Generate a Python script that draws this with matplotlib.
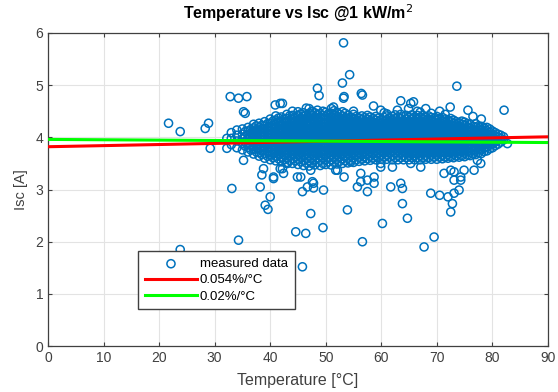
import numpy as np
import matplotlib
matplotlib.use('Agg')
import matplotlib.pyplot as plt

plt.rcParams['font.family'] = ['Liberation Sans', 'DejaVu Sans']

#%% data
# fitted lines (Isc at T=0 and T=90)
line_t = [0, 90]
red_isc = [3.82, 4.01]
green_isc = [3.96, 3.90]

# scattered points above the dense band
high_t = [53.2, 54.3, 53.0, 48.5, 48.8, 56.4, 53.2, 58.6, 63.5, 65.8, 62.9, 64.9, 51.4, 47.6,
          59.9, 73.6, 82.1, 72.4, 75.6, 65.3, 41.8, 53.3, 56.6, 21.7, 23.8, 28.3, 28.9, 32.8,
          34.3, 35.8, 35.5, 40.9, 42.2, 41.5, 35.2, 50.5, 55.0, 57.5, 61.0, 67.0, 69.0, 70.5,
          68.0, 66.5, 45.0, 44.0, 76.5, 78.0, 82.7, 29.2, 32.2, 32.2, 46.5, 60.5, 71.5]
high_i = [5.81, 5.20, 5.04, 4.94, 4.80, 4.84, 4.75, 4.60, 4.70, 4.68, 4.52, 4.55, 4.58, 4.49,
          4.52, 4.98, 4.52, 4.58, 4.52, 4.65, 4.65, 4.78, 4.81, 4.27, 4.11, 4.17, 4.27, 4.78,
          4.75, 4.78, 4.46, 4.62, 4.65, 4.30, 4.49, 4.45, 4.50, 4.42, 4.45, 4.48, 4.46, 4.50,
          4.55, 4.50, 4.42, 4.50, 4.40, 4.35, 3.88, 3.79, 3.79, 3.98, 4.56, 4.47, 4.44]

# scattered points below the dense band
low_t = [35.2, 33.1, 38.2, 38.8, 40.6, 42.2, 43.1, 39.1, 40.0, 45.8, 34.3, 44.6, 46.4, 47.3,
         23.8, 45.8, 49.5, 56.6, 60.2, 67.7, 69.5, 47.8, 49.6, 53.9, 64.7, 63.8, 63.8,
         68.9, 70.5, 72.0, 73.1, 72.5, 72.8, 74.0, 74.3, 76.7, 77.9, 54.5, 56.3, 57.5, 58.7,
         55.7, 57.5, 61.7, 63.5, 43.0, 45.5, 52.1, 53.3, 67.1, 71.3, 73.1, 59.9, 47.3, 47.8,
         44.9, 46.7, 47.6, 39.6, 73.1, 74.3, 72.5, 74.9, 77.3, 56.3, 58.7, 62.0, 65.3, 59.9,
         51.8, 38.5, 40.6, 41.8, 42.4]
low_i = [3.56, 3.02, 3.05, 3.40, 3.21, 3.40, 3.50, 2.70, 2.86, 2.96, 2.03, 2.19, 2.16, 2.54,
         1.85, 1.52, 2.27, 2.00, 2.35, 1.90, 2.09, 3.03, 2.99, 2.61, 2.45, 2.73, 3.02,
         2.93, 2.89, 2.86, 2.93, 2.57, 2.73, 2.99, 3.18, 3.37, 3.50, 3.53, 3.31, 3.18, 3.24,
         3.05, 2.96, 3.05, 3.12, 3.50, 3.24, 3.37, 3.24, 3.43, 3.31, 3.18, 3.43, 3.37, 3.12,
         3.24, 3.05, 3.15, 2.62, 3.34, 3.24, 3.37, 3.37, 3.56, 3.15, 3.12, 3.43, 3.50, 3.50,
         3.37, 3.28, 3.24, 3.40, 3.31]

# dense band: (temperature, Isc values in 1/100 A)
core_30s = [
    (33, [386, 398, 409]), (34, [380, 393, 404, 414]), (35, [376, 388, 397, 406, 416]),
    (35.5, [383, 392, 401, 411]), (36, [372, 381, 389, 396, 404, 412, 419]),
    (36.5, [376, 385, 393, 400, 408, 415]), (37, [368, 377, 384, 391, 398, 405, 412, 418, 425]),
    (37.5, [372, 380, 387, 394, 402, 409, 415, 422]),
    (38, [364, 371, 379, 386, 392, 399, 406, 413, 419, 427]),
    (38.5, [367, 375, 382, 389, 396, 403, 410, 416, 423]),
    (39, [360, 369, 376, 383, 390, 396, 403, 409, 416, 422, 430]),
    (39.5, [364, 372, 379, 386, 393, 400, 406, 413, 419, 426]),
]
core_40s = [
    (40, [357, 366, 373, 380, 387, 393, 400, 407, 413, 420, 427, 435]),
    (40.5, [361, 369, 377, 384, 390, 397, 403, 410, 417, 423, 431]),
    (41, [355, 364, 371, 378, 385, 392, 398, 405, 411, 418, 425, 433, 441]),
    (41.5, [359, 367, 375, 382, 389, 395, 402, 409, 415, 422, 429, 437]),
    (42, [353, 362, 370, 377, 384, 390, 397, 403, 410, 416, 423, 430, 439]),
    (42.5, [357, 366, 373, 380, 387, 394, 400, 407, 413, 420, 427, 435]),
    (43, [352, 361, 368, 375, 382, 389, 396, 402, 409, 415, 422, 428, 436, 444]),
    (43.5, [356, 364, 372, 379, 386, 393, 399, 406, 412, 419, 425, 433, 441]),
    (44, [350, 359, 367, 374, 381, 388, 395, 401, 408, 414, 421, 427, 434, 442]),
    (44.5, [355, 363, 371, 378, 385, 392, 398, 405, 411, 418, 424, 431, 439]),
    (45, [348, 358, 366, 373, 380, 387, 394, 400, 407, 413, 420, 426, 433, 441, 449]),
    (45.5, [353, 362, 370, 377, 384, 390, 397, 404, 410, 417, 423, 430, 437, 445]),
    (46, [346, 356, 364, 372, 379, 386, 392, 399, 405, 412, 418, 425, 432, 440, 447]),
    (46.5, [351, 360, 368, 375, 382, 389, 396, 402, 409, 415, 422, 428, 436, 443]),
    (47, [345, 355, 363, 371, 378, 385, 391, 398, 404, 411, 417, 424, 431, 438, 446, 455]),
    (47.5, [350, 359, 367, 374, 381, 388, 394, 401, 407, 414, 420, 427, 434, 442, 450]),
    (48, [347, 357, 365, 372, 379, 386, 393, 399, 406, 412, 419, 425, 432, 439, 447]),
    (48.5, [352, 361, 369, 376, 383, 390, 396, 403, 409, 416, 422, 429, 436, 444, 452]),
    (49, [346, 356, 364, 371, 378, 385, 392, 398, 405, 411, 418, 424, 431, 438, 445]),
    (49.5, [350, 360, 368, 375, 382, 389, 395, 402, 408, 415, 421, 428, 435, 442, 450]),
]
core_50s = [
    (50, [348, 358, 366, 373, 380, 387, 394, 400, 407, 413, 420, 426, 433, 440, 448]),
    (50.5, [353, 362, 370, 377, 384, 391, 397, 404, 410, 417, 423, 430, 437, 445]),
    (51, [347, 357, 365, 372, 379, 386, 393, 399, 406, 412, 419, 425, 432, 439, 446, 455]),
    (51.5, [352, 361, 369, 376, 383, 390, 396, 403, 409, 416, 422, 429, 436, 443, 451]),
    (52, [349, 358, 366, 373, 380, 387, 394, 400, 407, 413, 420, 426, 433, 440, 448]),
    (52.5, [354, 362, 370, 377, 384, 391, 397, 404, 410, 417, 423, 430, 437, 444]),
    (53, [350, 359, 367, 374, 381, 388, 395, 401, 408, 414, 421, 427, 434, 441, 449]),
    (53.5, [355, 363, 371, 378, 385, 392, 398, 405, 411, 418, 424, 431, 438, 446]),
    (54, [351, 360, 368, 375, 382, 389, 395, 402, 408, 415, 421, 428, 435, 442]),
    (54.5, [356, 364, 372, 379, 386, 393, 399, 406, 412, 419, 425, 432, 439]),
    (55, [352, 361, 369, 376, 383, 390, 396, 403, 409, 416, 422, 429, 436, 444]),
    (55.5, [357, 365, 373, 380, 387, 393, 400, 406, 413, 419, 426, 433, 440]),
    (56, [354, 362, 370, 377, 384, 391, 397, 404, 410, 417, 423, 430, 437]),
    (56.5, [358, 366, 374, 381, 388, 394, 401, 407, 414, 420, 427, 434, 441]),
    (57, [355, 363, 371, 378, 385, 392, 398, 405, 411, 418, 424, 431, 438]),
    (57.5, [359, 367, 375, 382, 389, 395, 402, 408, 415, 421, 428, 435]),
    (58, [356, 364, 372, 379, 386, 393, 399, 406, 412, 419, 425, 432, 439]),
    (58.5, [360, 368, 376, 383, 390, 396, 403, 409, 416, 422, 429, 436]),
    (59, [357, 365, 373, 380, 387, 394, 400, 407, 413, 420, 426, 433, 440]),
    (59.5, [361, 369, 377, 384, 391, 397, 404, 410, 417, 423, 430, 437]),
]
core_60s = [
    (60, [358, 366, 374, 381, 388, 394, 401, 407, 414, 420, 427, 434]),
    (60.5, [362, 370, 377, 384, 391, 398, 404, 411, 417, 424, 431, 438]),
    (61, [358, 366, 373, 380, 387, 394, 400, 407, 413, 420, 427, 434, 441]),
    (61.5, [362, 370, 377, 384, 391, 397, 404, 410, 417, 423, 430, 437]),
    (62, [357, 365, 373, 380, 387, 393, 400, 406, 413, 419, 426, 433, 440]),
    (62.5, [361, 369, 377, 384, 390, 397, 403, 410, 416, 423, 429, 436, 443]),
    (63, [357, 365, 373, 380, 386, 393, 399, 406, 412, 419, 425, 432, 439]),
    (63.5, [361, 369, 376, 383, 390, 396, 403, 409, 416, 422, 429, 436, 444]),
    (64, [357, 365, 372, 379, 386, 392, 399, 405, 412, 418, 425, 432, 440]),
    (64.5, [361, 369, 376, 383, 389, 396, 402, 409, 415, 422, 428, 435, 442]),
    (65, [357, 365, 372, 379, 386, 392, 399, 405, 412, 418, 425, 431, 438]),
    (65.5, [361, 368, 376, 383, 389, 396, 402, 409, 415, 422, 428, 435, 443]),
    (66, [357, 365, 372, 379, 386, 392, 399, 405, 412, 418, 425, 432, 439]),
    (66.5, [361, 368, 376, 383, 389, 396, 402, 409, 415, 422, 428, 435, 442]),
    (67, [357, 365, 372, 379, 386, 392, 399, 405, 412, 418, 425, 432, 439]),
    (67.5, [361, 369, 376, 383, 389, 396, 402, 409, 415, 422, 428, 435, 442]),
    (68, [358, 365, 372, 379, 386, 392, 399, 405, 412, 418, 425, 432, 439]),
    (68.5, [361, 369, 376, 383, 389, 396, 402, 409, 415, 422, 428, 435, 441]),
    (69, [358, 366, 373, 380, 386, 393, 399, 406, 412, 419, 425, 432, 438]),
    (69.5, [362, 369, 376, 383, 390, 396, 403, 409, 416, 422, 429, 436]),
]
core_70s = [
    (70, [358, 366, 373, 380, 387, 393, 400, 406, 413, 419, 426, 433, 440]),
    (70.5, [362, 369, 377, 384, 390, 397, 403, 410, 416, 423, 429, 436]),
    (71, [359, 366, 373, 380, 387, 393, 400, 406, 413, 419, 426, 432, 438]),
    (71.5, [362, 370, 377, 384, 390, 397, 403, 410, 416, 423, 429, 435]),
    (72, [360, 367, 374, 381, 387, 394, 400, 407, 413, 420, 426, 433]),
    (72.5, [363, 370, 377, 384, 391, 397, 404, 410, 417, 423, 430, 436]),
    (73, [361, 368, 375, 382, 388, 395, 401, 408, 414, 421, 427, 433]),
    (73.5, [364, 371, 378, 385, 391, 398, 404, 411, 417, 424, 430]),
    (74, [362, 369, 376, 383, 389, 396, 402, 409, 415, 422, 428]),
    (74.5, [365, 372, 379, 386, 392, 399, 405, 412, 418, 425, 431]),
    (75, [363, 370, 377, 384, 390, 397, 403, 410, 416, 423, 429]),
    (75.5, [366, 373, 380, 387, 393, 400, 406, 413, 419, 426]),
    (76, [365, 372, 379, 386, 392, 399, 405, 412, 418, 425]),
    (76.5, [368, 375, 382, 389, 395, 402, 408, 415, 421]),
    (77, [367, 374, 381, 387, 394, 400, 407, 413, 420, 426]),
    (77.5, [370, 377, 384, 390, 397, 403, 410, 416, 422]),
    (78, [369, 376, 383, 389, 396, 402, 409, 415, 421]),
    (78.5, [373, 380, 386, 393, 399, 406, 412, 418]),
    (79, [374, 381, 388, 394, 401, 407, 413, 419]),
    (79.5, [378, 385, 391, 398, 404, 410, 416]),
]
core_80s = [
    (80, [380, 387, 393, 400, 406, 412]),
    (80.5, [384, 391, 397, 403, 409]),
    (81, [387, 394, 400, 406]),
    (81.5, [391, 398, 404]),
    (82, [395, 401]),
]

legend_labels = ['measured data', '0.054%/\u00b0C', '0.02%/\u00b0C']

#%% collect
core_t, core_i = [], []
for rows in (core_30s, core_40s, core_50s, core_60s, core_70s, core_80s):
    for t, vals in rows:
        core_t += [t] * len(vals)
        core_i += [v / 100.0 for v in vals]

all_t = np.array(high_t + low_t + core_t)
all_i = np.array(high_i + low_i + core_i)

#%% plot
blue = '#0072BD'
fig = plt.figure(figsize=(5.58, 3.92), dpi=100)
ax = fig.add_axes([0.086, 0.117, 0.896, 0.799])

h1 = ax.scatter(all_t, all_i, s=34, facecolors='none', edgecolors=blue, linewidths=1.1,
                zorder=2)
h2, = ax.plot(line_t, red_isc, color='#FF0000', lw=2.2, zorder=3)
h3, = ax.plot(line_t, green_isc, color='#00FF00', lw=2.2, zorder=3)

ax.set_xlim(0, 90)
ax.set_ylim(0, 6)
ax.set_xticks(range(0, 91, 10))
ax.set_yticks(range(0, 7))
ax.grid(True, color='#e3e3e3', lw=0.8, zorder=0)
ax.set_axisbelow(True)
ax.tick_params(direction='in', top=True, right=True, labelsize=10, colors='#404040',
               length=3)
for sp in ax.spines.values():
    sp.set_color('#404040')
    sp.set_linewidth(0.9)

ax.set_title('Temperature vs Isc @1 kW/m$^2$', fontsize=11.5, fontweight='bold', pad=10)
ax.set_xlabel('Temperature [\u00b0C]', fontsize=11.5, color='#404040', labelpad=6)
ax.set_ylabel('Isc [A]', fontsize=10.5, color='#404040', labelpad=5)

leg = ax.legend([h1, h2, h3], legend_labels, loc='lower left',
                bbox_to_anchor=(0.18, 0.118), fontsize=9.5, frameon=True, fancybox=False,
                framealpha=1, edgecolor='#404040', handlelength=4, labelspacing=0.3,
                borderpad=0.5, handletextpad=0.2, borderaxespad=0)
leg.get_frame().set_linewidth(1.0)
leg.set_zorder(5)

fig.savefig('out.png', dpi=100)
